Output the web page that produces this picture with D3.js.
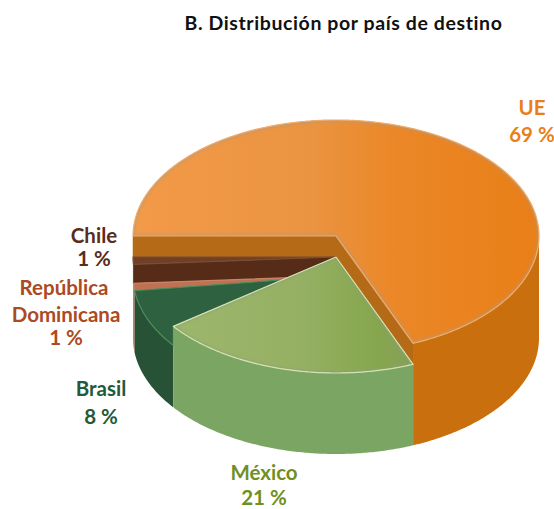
<!DOCTYPE html>
<html>
<head>
<meta charset="utf-8">
<script src="https://d3js.org/d3.v7.min.js"></script>
<style>
  body { margin: 0; background: #fff; }
  text { font-family: Lato, "Open Sans", sans-serif; font-weight: 700; }
</style>
</head>
<body>
<div id="chart"></div>
<script>
// values
const countries = ['UE', 'México', 'Brasil', 'República Dominicana', 'Chile'];
const shares = [68.8, 21, 8.2, 1, 1];
// every wedge is drawn with its own height above the base
const heights = [102, 81, 62, 62, 81];
// back to front
const drawOrder = ['UE', 'Chile', 'República Dominicana', 'Brasil', 'México'];

const titleText = 'B. Distribución por país de destino';
const labelLines = [
    ['UE', '69 %'],
    ['México', '21 %'],
    ['Brasil', '8 %'],
    ['República', 'Dominicana', '1 %'],
    ['Chile', '1 %']
];

const width = 554, height = 509;
const cx = 336, baseY = 338, rx = 203, ry = 116;

const style = {
    'UE': {wall: '#c96f0d', cut: '#b46a16', top: 'grad-ue', rim: '#f3ab68', sheen: '#a89a8c', label: '#e97f17'},
    'México': {wall: '#7ba562', cut: '#7ba562', top: 'grad-mx', rim: '#d3e4ad', sheen: '#8f9a80', label: '#6f8f22'},
    'Brasil': {wall: '#285235', cut: '#285235', top: '#2e6140', rim: '#4f8a58', label: '#235a3a'},
    'República Dominicana': {wall: '#bd6a4a', cut: '#bd6a4a', top: '#c07153', rim: '#c98468', label: '#ac4a22'},
    'Chile': {wall: '#562c18', cut: '#562c18', top: '#6f4026', rim: '#7a4d31', label: '#5a2d1b'}
};

// label anchor per line: x centre, y baseline
const labelPos = {
    'UE': [[532, 115], [532, 142]],
    'México': [[264, 480], [264, 504.5]],
    'Brasil': [[101, 396], [101, 424]],
    'República Dominicana': [[64, 295], [66, 322], [66, 345]],
    'Chile': [[94, 243], [94, 266]]
};

const svg = d3.select('#chart').append('svg')
    .attr('width', width)
    .attr('height', height);

const defs = svg.append('defs');

function addGradient(id, x1, x2, stops) {
    const g = defs.append('linearGradient')
        .attr('id', id)
        .attr('gradientUnits', 'userSpaceOnUse')
        .attr('x1', x1).attr('x2', x2)
        .attr('y1', 0).attr('y2', 0);
    stops.forEach(s => g.append('stop').attr('offset', s[0]).attr('stop-color', s[1]));
}
addGradient('grad-ue', cx - rx, cx + rx, [[0, '#f29a47'], [0.45, '#ea9340'], [0.65, '#eb8727'], [1, '#e97f17']]);
addGradient('grad-mx', cx - rx + 30, cx + 80, [[0, '#9db86c'], [0.55, '#95b063'], [0.85, '#86a64e'], [1, '#86a05a']]);

defs.append('filter').attr('id', 'soft')
    .append('feGaussianBlur').attr('stdDeviation', 1.2);

const pie = d3.pie()
    .sort(null)
    .startAngle(-Math.PI / 2)
    .endAngle(Math.PI * 1.5);
const slices = pie(shares);

const px = a => cx + rx * Math.sin(a);
const py = (a, h) => baseY - h - ry * Math.cos(a);

const line = d3.line();

// outer wall, only the part of the wedge that faces the viewer
function wallPath(a0, a1, h) {
    const lo = Math.max(a0, Math.PI / 2), hi = Math.min(a1, Math.PI * 1.5);
    if (lo >= hi) return null;
    const angles = d3.range(lo, hi, 0.01).concat([hi]);
    const top = angles.map(a => [px(a), py(a, h)]);
    const bottom = angles.slice().reverse().map(a => [px(a), py(a, 0)]);
    return line(top.concat(bottom)) + 'Z';
}

function cutPath(a, hTop, hBottom) {
    return line([
        [cx, baseY - hTop],
        [px(a), py(a, hTop)],
        [px(a), py(a, hBottom)],
        [cx, baseY - hBottom]
    ]) + 'Z';
}

drawOrder.forEach(name => {
    const i = countries.indexOf(name);
    const s = slices[i];
    const h = heights[i];
    const st = style[name];
    const prev = heights[(i + countries.length - 1) % countries.length];
    const next = heights[(i + 1) % countries.length];
    const g = svg.append('g').attr('class', 'slice');

    const wall = wallPath(s.startAngle, s.endAngle, h);
    if (wall) g.append('path').attr('d', wall).attr('fill', st.wall);

    if (prev < h) g.append('path').attr('d', cutPath(s.startAngle, h, prev))
        .attr('fill', st.cut).attr('stroke', st.cut).attr('stroke-width', 0.5);
    if (next < h) g.append('path').attr('d', cutPath(s.endAngle, h, next))
        .attr('fill', st.cut).attr('stroke', st.cut).attr('stroke-width', 0.5);

    // top face
    const fill = st.top.startsWith('grad') ? `url(#${st.top})` : st.top;
    const angles = d3.range(s.startAngle, s.endAngle, 0.01).concat([s.endAngle]);
    const outline = line([[cx, baseY - h]].concat(angles.map(a => [px(a), py(a, h)]))) + 'Z';

    g.append('path').attr('d', outline).attr('fill', fill);

    // soft bevel just inside the edge of the two big faces
    if (st.sheen) {
        const clipId = 'clip-' + i;
        defs.append('clipPath').attr('id', clipId)
            .append('path').attr('d', outline);
        g.append('g').attr('clip-path', `url(#${clipId})`)
            .append('path')
            .attr('d', outline)
            .attr('fill', 'none')
            .attr('stroke', st.sheen)
            .attr('stroke-width', 4)
            .attr('stroke-opacity', 0.55)
            .attr('filter', 'url(#soft)');
    }

    g.append('path')
        .attr('d', outline)
        .attr('fill', 'none')
        .attr('stroke', st.rim)
        .attr('stroke-width', 1.2)
        .attr('stroke-linejoin', 'round');
});

svg.append('text')
    .attr('x', 343.5)
    .attr('y', 30)
    .attr('text-anchor', 'middle')
    .attr('font-size', 19.5)
    .attr('letter-spacing', 0.6)
    .attr('fill', '#111')
    .text(titleText);

countries.forEach((name, i) => {
    labelLines[i].forEach((t, j) => {
        svg.append('text')
            .attr('x', labelPos[name][j][0])
            .attr('y', labelPos[name][j][1])
            .attr('text-anchor', 'middle')
            .attr('font-size', 20.5)
            .attr('fill', style[name].label)
            .text(t);
    });
});
</script>
</body>
</html>
